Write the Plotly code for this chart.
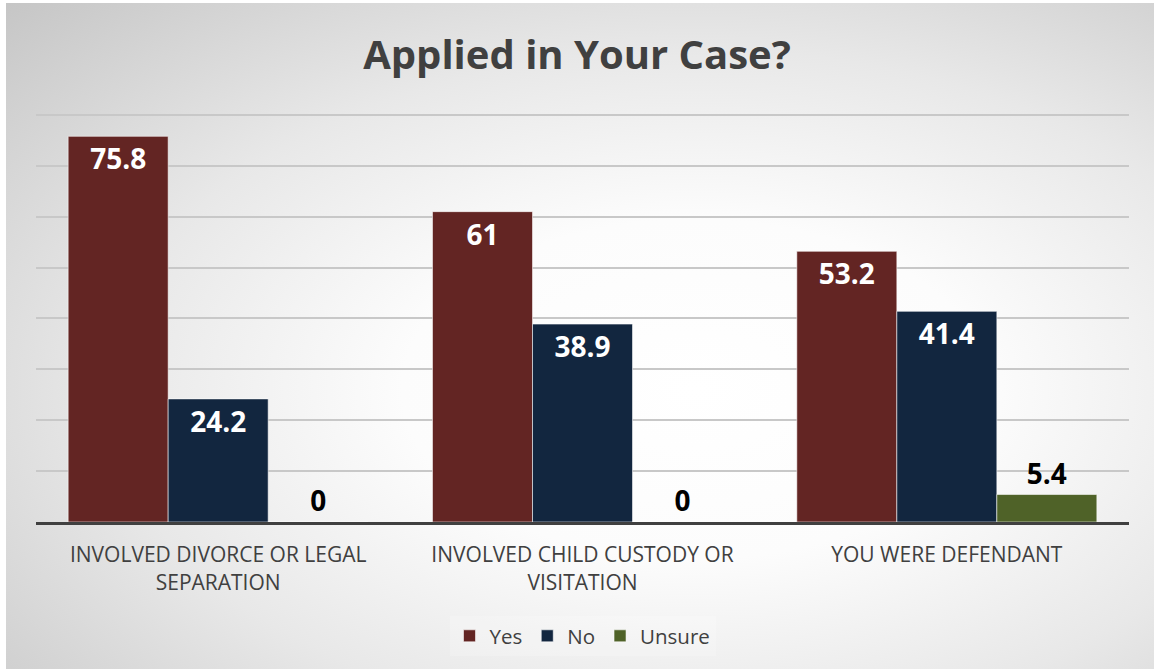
import base64
import plotly.graph_objects as go

categories = ["INVOLVED DIVORCE OR LEGAL<br>SEPARATION",
              "INVOLVED CHILD CUSTODY OR<br>VISITATION",
              "YOU WERE DEFENDANT"]
yes_vals = [75.8, 61, 53.2]
no_vals = [24.2, 38.9, 41.4]
unsure_vals = [0, 0, 5.4]

series = [("Yes", yes_vals, "#632523", "inside", "white"),
          ("No", no_vals, "#12263f", "inside", "white"),
          ("Unsure", unsure_vals, "#4f6228", "outside", "black")]

fig = go.Figure()
for name, vals, color, pos, tcol in series:
    fig.add_trace(go.Bar(
        name=name, x=categories, y=vals,
        marker=dict(color=color, line=dict(color="rgba(255,255,255,0.55)", width=1)),
        text=[f"{v:g}" for v in vals],
        textposition=pos, insidetextanchor="end",
        textfont=dict(family="Open Sans", size=28, color=tcol, weight="bold"),
        outsidetextfont=dict(family="Open Sans", size=28, color="black", weight="bold"),
        cliponaxis=False,
    ))

svg = """<svg xmlns='http://www.w3.org/2000/svg' width='1000' height='600' viewBox='0 0 1000 600' preserveAspectRatio='none'>
<defs><radialGradient id='g' cx='0.6' cy='0.58' r='0.85'>
<stop offset='0' stop-color='#ffffff'/><stop offset='0.3' stop-color='#fcfcfc'/>
<stop offset='0.6' stop-color='#e8e8e8'/>
<stop offset='1' stop-color='#c4c4c4'/></radialGradient></defs>
<rect width='1000' height='600' fill='url(#g)'/></svg>"""
src = "data:image/svg+xml;base64," + base64.b64encode(svg.encode()).decode()

L, R, T, B = 36, 25, 110, 147
W, H = 1154, 669
pw, ph = W - L - R, H - T - B
x0 = (6 - L) / pw
x1 = (1154 - L) / pw
y0 = (H - B - 3) / ph
y1 = (H - B - 669) / ph

fig.add_layout_image(dict(source=src, xref="paper", yref="paper", x=x0, y=y0,
                          sizex=x1 - x0, sizey=y0 - y1, sizing="stretch",
                          xanchor="left", yanchor="top", layer="below"))

fig.update_layout(
    width=W, height=H,
    margin=dict(l=L, r=R, t=T, b=B),
    paper_bgcolor="white", plot_bgcolor="rgba(0,0,0,0)",
    barmode="group", bargap=0.1765, bargroupgap=0,
    title=dict(text="<b>Applied in Your Case?</b>", x=0.5, xanchor="center",
               y=1 - 55 / H, yanchor="middle", yref="container",
               font=dict(family="Open Sans", size=40, color="#404040")),
    xaxis=dict(showline=True, linecolor="#404040", linewidth=3, ticks="",
               tickfont=dict(family="Open Sans", size=21, color="#404040"),
               ticklabelstandoff=12),
    yaxis=dict(range=[0, 80.98], tickvals=[10, 20, 30, 40, 50, 60, 70, 80],
               showticklabels=False, showgrid=True,
               gridcolor="#c8c8c8", gridwidth=1.5, zeroline=False),
    legend=dict(orientation="h", x=0.5, xanchor="center", y=(H - B - 636) / ph,
                yanchor="middle", bgcolor="rgba(255,255,255,0.2)",
                font=dict(family="Open Sans", size=20.5, color="#404040"),
                itemwidth=30, traceorder="normal"),
    showlegend=True,
)

fig.write_html("out.html")
